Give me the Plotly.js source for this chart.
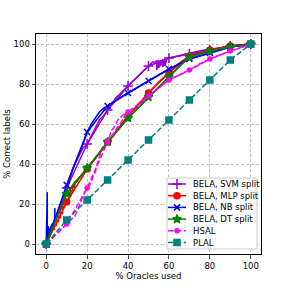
<!DOCTYPE html>
<html><head><meta charset="utf-8">
<script src="https://cdn.plot.ly/plotly-3.0.1.min.js"></script>
<style>html,body{margin:0;padding:0;background:#fff}#chart{width:291px;height:291px}</style>
</head><body><div id="chart"></div>
<script>
// Marker (decade) points
var decX = [0,10,20,30,40,50,60,70,80,90,100];
var svmMk = [0,28,50,67,79,89,93,95,97,99,100];
var mlpMk = [0,21,37.5,51,64,75.5,85.5,94,97,99,100];
var nbMk  = [0,29.5,56,69,75.5,81.5,87.5,92.5,95.5,98.5,100];
var dtMk  = [0,25,38,51,63,73.5,83.5,93.5,96.5,98.5,100];
var hsalMk= [0,10,28,51,66,74,82,87,92.5,96.5,100];
var plalY = [0,12,22,32,42,52,62,72,82,92,100];

// Dense curves
var svmX = [0,0.5,1,1.5,2,3,4,5,6,7,8,9,10,11,12,13,14,15,16,17,18,19,20,22,24,26,28,30,32,34,36,38,40,42,44,46,48,50,51,52,53,54,54,55,55,56,56,57,57,58,58,59,60,62,64,66,68,70,75,80,85,90,95,100];
var svmY = [0,3,5,6,7,9,11,13,15,17,19,22,27,30,34,38,40,42,44,46,48,49,50,54,58,62,64,67,70,73,75,77,79,81,83,85,87,89,90,91,91,91.5,87,92,88,92,89,92.3,88.5,92.5,89,92.7,93,93.5,94,94.5,95,95.5,96.5,97.5,98,99,99.5,100];
var nbX = [0,0.5,0.5,1,1,1.2,2,3,4,4.2,4.2,5,6,7,8,9,10,12,14,16,18,20,22,24,26,28,30,35,40,45,50,55,60,65,70,75,80,85,90,95,100];
var nbY = [0,26,3,6,9,6,8,10,11,18,12,14,16,19,22,25,29.5,35,40,45,50,56,60,63,66,68,69,72.5,75.5,78.5,81.5,84.5,87.5,90,92.5,94,95.5,97,98.5,99.3,100];
var mlpX = [0,1,1.5,2,3,4,4,5,5,6,6,7,7,8,8,9,9,10,11,11,12,12,13,13,14,14,15,16,18,20,25,30,35,40,45,50,55,60,65,70,75,80,85,90,95,100];
var mlpY = [0,4,7,6,8,7,10,9,12,11,14,13,16,15,19,18,21,21,22,25,24,27,26,29,28,31,31,33,35,37.5,44,51,57.5,64,70,75.5,81,85.5,90.5,94,95.5,97,98,99,99.5,100];
var dtX = [0,1,2,3,4,5,6,7,8,9,10,12,14,16,18,20,25,30,35,40,45,50,55,60,65,70,75,80,85,90,95,100];
var dtY = [0,4,7,9,12,14,17,19,21,23,25,28,31,33,35.5,38,44.5,51,57,63,68,73.5,78.5,83.5,89,93.5,95,96.5,97.5,98.5,99.3,100];
var hsalX = [0,2,4,6,8,10,12,14,15,16,17,18,19,20,21,22,23,24,25,26,27,28,30,31,32,33,34,35,36,37,38,40,42,44,46,48,50,55,60,65,70,75,80,85,90,95,100];
var hsalY = [0,2,4,6,8,10,12,14,16,19,22,24,26,28,29,31,34,36,40,44,47,49,51,54,57,58,60,62,63,64,65,66,67,68,70,72,74,78,82,84.5,87,90,92.5,94.5,96.5,98,100];

var names = ['BELA, SVM split','BELA, MLP split','BELA, NB split','BELA, DT split','HSAL','PLAL'];
var colors = ['#9400D3','#FF0000','#0000FF','#008000','#FF00FF','#008080'];
var DASH = '5.5px,2.4px';

var traces = [];
function dense(x,y,c,dash){
  traces.push({x:x,y:y,mode:'lines',showlegend:false,hoverinfo:'skip',
    line:{color:c,width:1.5,dash:dash||'solid'}});
}
dense(svmX,svmY,colors[0]);
dense(mlpX,mlpY,colors[1]);
dense(nbX,nbY,colors[2]);
dense(dtX,dtY,colors[3]);
dense(hsalX,hsalY,colors[4],DASH);

var mk = [
  {y:svmMk,sym:'cross-thin',size:7},
  {y:mlpMk,sym:'circle',size:6},
  {y:nbMk,sym:'x-thin',size:6},
  {y:dtMk,sym:'star',size:6.5},
  {y:hsalMk,sym:'circle',size:4},
  {y:plalY,sym:'square',size:6}
];
mk.forEach(function(m,i){
  traces.push({x:decX,y:m.y,name:names[i],mode:'lines+markers',showlegend:false,
    line:{color:colors[i],width:1.5,dash:(i>=4?DASH:'solid')},
    marker:{symbol:m.sym,size:m.size,color:colors[i],line:{color:colors[i],width:1.5}}});
});

// Custom legend drawn on a small overlay subplot (x2/y2), in pixel-like units
var LX0=166, LX1=258, LY0=177, LY1=250;
var rowY = [184,195.7,207.4,219.1,230.8,242.5];
traces.push({x:[LX0+1,LX1-1,LX1-1,LX0+1,LX0+1],y:[LY0+1,LY0+1,LY1-1,LY1-1,LY0+1],xaxis:'x2',yaxis:'y2',
  mode:'lines',fill:'toself',fillcolor:'rgba(255,255,255,0.85)',line:{color:'#cccccc',width:1},
  showlegend:false,hoverinfo:'skip'});
var annotations = [];
mk.forEach(function(m,i){
  traces.push({x:[168,186],y:[rowY[i],rowY[i]],xaxis:'x2',yaxis:'y2',mode:'lines',showlegend:false,hoverinfo:'skip',
    line:{color:colors[i],width:1.5,dash:(i>=4?DASH:'solid')}});
  traces.push({x:[177],y:[rowY[i]],xaxis:'x2',yaxis:'y2',mode:'markers',showlegend:false,hoverinfo:'skip',
    marker:{symbol:m.sym,size:m.size,color:colors[i],line:{color:colors[i],width:1.5}}});
  annotations.push({xref:'x2',yref:'y2',x:191,y:rowY[i],text:names[i],showarrow:false,xanchor:'left',yanchor:'middle',
    font:{size:8.5,color:'#000'}});
});

var layout = {
  width:291,height:291,
  margin:{l:36,r:30,t:34,b:37},
  paper_bgcolor:'#fff',plot_bgcolor:'#fff',
  font:{family:'DejaVu Sans',size:8.5,color:'#000'},
  showlegend:false,
  annotations:annotations,
  xaxis:{range:[-5,105],tickvals:[0,20,40,60,80,100],showgrid:true,gridcolor:'#b0b0b0',griddash:'3px,2px',gridwidth:0.8,
    zeroline:false,showline:true,linecolor:'#000',linewidth:1,mirror:true,ticks:'outside',ticklen:3.5,
    title:{text:'% Oracles used',font:{size:8.5},standoff:3},tickfont:{size:8.5}},
  yaxis:{range:[-5,105],tickvals:[0,20,40,60,80,100],showgrid:true,gridcolor:'#b0b0b0',griddash:'3px,2px',gridwidth:0.8,
    zeroline:false,showline:true,linecolor:'#000',linewidth:1,mirror:true,ticks:'outside',ticklen:3.5,
    title:{text:'% Correct labels',font:{size:8.5},standoff:1},tickfont:{size:8.5}},
  xaxis2:{domain:[(LX0-36)/225,(LX1-36)/225],range:[LX0,LX1],anchor:'y2',visible:false,fixedrange:true},
  yaxis2:{domain:[(254-LY1)/220,(254-LY0)/220],range:[LY1,LY0],anchor:'x2',visible:false,fixedrange:true}
};
Plotly.newPlot('chart',traces,layout,{displayModeBar:false,staticPlot:true});
</script></body></html>
